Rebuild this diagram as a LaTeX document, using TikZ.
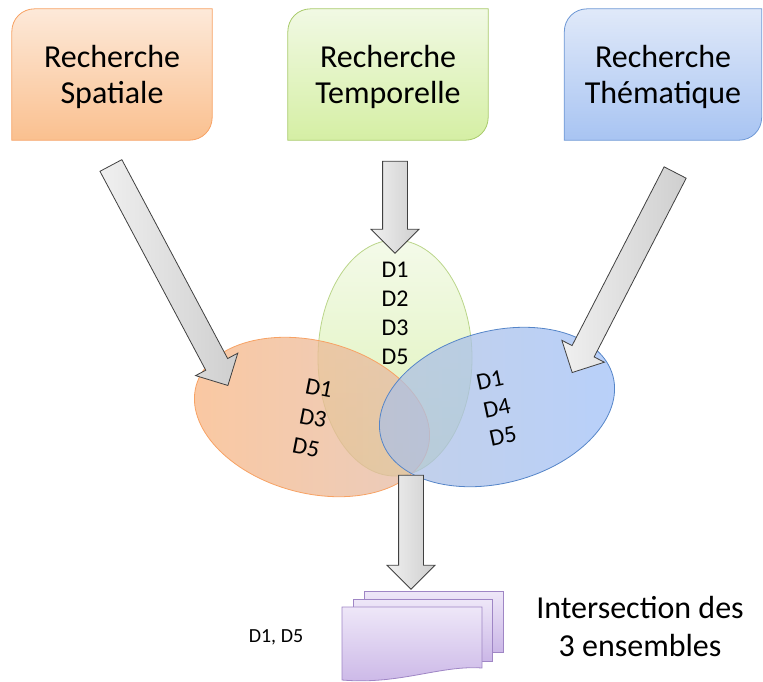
\documentclass[tikz,border=0pt]{standalone}
\usepackage{fontspec}
\setmainfont{Carlito}
\usepackage{tikz}
\usetikzlibrary{shapes.geometric, shapes.arrows, positioning, calc, backgrounds}

\definecolor{spatTop}{HTML}{FDE9D9}
\definecolor{spatBot}{HTML}{FAC08F}
\definecolor{spatLine}{HTML}{F7A264}
\definecolor{tempTop}{HTML}{F1F9E4}
\definecolor{tempBot}{HTML}{D5EFA4}
\definecolor{tempLine}{HTML}{A9CB6B}
\definecolor{themTop}{HTML}{E0E9F9}
\definecolor{themBot}{HTML}{A8C4F2}
\definecolor{themLine}{HTML}{6E98D5}
\definecolor{setSLeft}{HTML}{F9B682}
\definecolor{setSRight}{HTML}{E2BBA8}
\definecolor{setHLeft}{HTML}{B0C0E0}
\definecolor{setHRight}{HTML}{A0C0F8}
\definecolor{setHLine}{HTML}{5585C8}
\definecolor{arrowLine}{HTML}{404040}
\definecolor{docTop}{HTML}{EEE7F8}
\definecolor{docBot}{HTML}{CBB7E7}
\definecolor{docLine}{HTML}{9F86C5}

\tikzstyle{boxtext} = [minimum width=200pt, minimum height=131pt, align=center,
  font=\fontsize{32}{36}\selectfont]
\tikzstyle{fatarrow} = [single arrow, draw=arrowLine, line width=0.8pt, left color=gray!12, right color=gray!38,
  minimum width=47pt, single arrow head extend=11.5pt, inner xsep=0pt, inner ysep=12pt]
\tikzstyle{setel} = [ellipse, inner sep=0pt, line width=0.8pt]
\tikzstyle{setlist} = [align=center, font=\fontsize{24}{29}\selectfont]
\tikzstyle{setitem} = [inner sep=0pt, font=\fontsize{24}{29}\selectfont]
\tikzstyle{docsheet} = [draw=docLine, line width=0.8pt, top color=docTop, bottom color=docBot]

% box with two rounded corners (top left, bottom right)
\newcommand{\tabbox}[2]{%
  \draw[#2] (#1.south west) -- ([yshift=-23pt]#1.north west)
    .. controls ([yshift=-10pt]#1.north west) and ([xshift=10pt]#1.north west) .. ([xshift=23pt]#1.north west)
    -- (#1.north east) -- ([yshift=23pt]#1.south east)
    .. controls ([yshift=10pt]#1.south east) and ([xshift=-10pt]#1.south east) .. ([xshift=-23pt]#1.south east)
    -- cycle;}

% block arrow from #2 to #3, named #1
\newcommand{\fatarrow}[3]{%
  \path let \p1=($(#3)-(#2)$) in
    node[fatarrow, rotate={atan2(\y1,\x1)}, minimum height={veclen(\x1,\y1)}] (#1) at ($(#2)!0.5!(#3)$) {};}

\begin{document}
\begin{tikzpicture}[x=1pt, y=-1pt]
  \useasboundingbox (0,0) rectangle (763,681);

  % The three searches
  \node[boxtext] (spat) at (112,74.5) {\rule{0pt}{28pt}Recherche\\Spatiale};
  \node[boxtext] (temp) at (388,74.5) {\rule{0pt}{28pt}Recherche\\Temporelle};
  \node[boxtext, minimum width=197pt] (them) at (663,74.5) {\rule{0pt}{28pt}Recherche\\Thématique};
  \begin{scope}[on background layer]
    \tabbox{spat}{draw=spatLine, line width=0.8pt, top color=spatTop, bottom color=spatBot}
    \tabbox{temp}{draw=tempLine, line width=0.8pt, top color=tempTop, bottom color=tempBot}
    \tabbox{them}{draw=themLine, line width=0.8pt, top color=themTop, bottom color=themBot}
  \end{scope}

  % Result sets
  \node[setel, draw=tempLine!80, top color=tempTop!80!white, bottom color=tempBot!85!white,
    minimum width=154pt, minimum height=236pt] (setT) at (395,358) {};
  \node[setel, draw=spatLine, fill opacity=0.75, left color=setSLeft, right color=setSRight,
    minimum width=240pt, minimum height=152pt, rotate=-15] (setS) at (312,417) {};
  \node[setel, draw=setHLine, fill opacity=0.75, left color=setHLeft, right color=setHRight,
    minimum width=240pt, minimum height=152pt, rotate=15] (setH) at (497,407) {};

  \node[setlist] (listT) at (395,313) {D1\\D2\\D3\\D5};
  % spatial set, slanted
  \node[setitem, rotate=-11] (s1) at (319,388) {D1};
  \node[setitem, rotate=-11] (s3) at (313,418) {D3};
  \node[setitem, rotate=-11] (s5) at (306,448) {D5};
  % thematic set, slanted
  \node[setitem, rotate=12] (h1) at (490,380) {D1};
  \node[setitem, rotate=12] (h4) at (497,408) {D4};
  \node[setitem, rotate=12] (h5) at (503,436) {D5};

  % Arrows
  \coordinate (sTail) at (108,160);
  \coordinate (sTip) at (225,380);
  \coordinate (tTail) at (395,155);
  \coordinate (tTip) at (395,247);
  \coordinate (hTail) at (678,167);
  \coordinate (hTip) at (575,367);
  \coordinate (dTail) at (411,469);
  \coordinate (dTip) at (411,583);
  \fatarrow{arrS}{sTail}{sTip}
  \fatarrow{arrT}{tTail}{tTip}
  \fatarrow{arrH}{hTail}{hTip}
  \fatarrow{arrD}{dTail}{dTip}

  % Intersection
  \draw[docsheet] (364,591) rectangle (503,652);
  \draw[docsheet] (353,599) rectangle (492,661);
  \draw[docsheet] (342,607) -- (482,607) -- (482,668)
    .. controls (440,665) and (400,685) .. (342,680) -- cycle;

  \node[font=\fontsize{20}{24}\selectfont] (res) at (276,637) {D1, D5};
  \node[align=center, font=\fontsize{32}{38}\selectfont] (inter) at (640,626) {Intersection des\\3 ensembles};
\end{tikzpicture}
\end{document}
